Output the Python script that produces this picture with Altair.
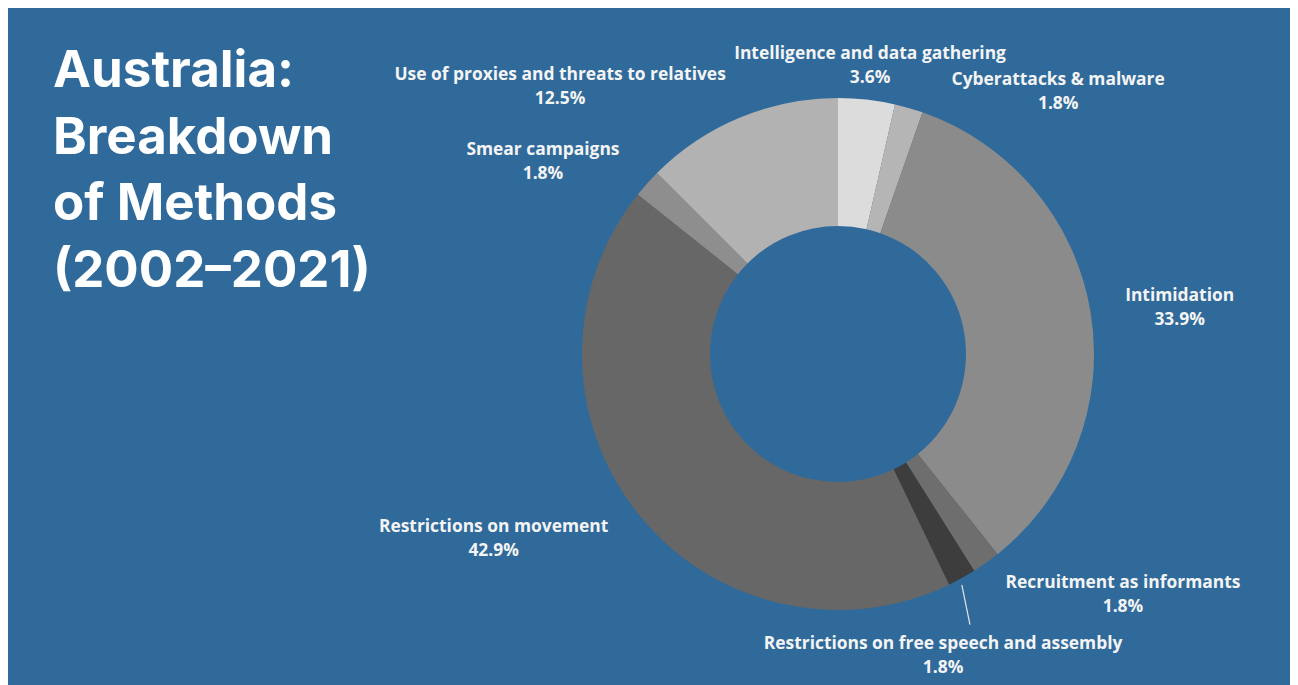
import math
import altair as alt
import pandas as pd

# ---- data (clockwise from 12 o'clock) ----
methods = [
    "Intelligence and data gathering",
    "Cyberattacks & malware",
    "Intimidation",
    "Recruitment as informants",
    "Restrictions on free speech and assembly",
    "Restrictions on movement",
    "Smear campaigns",
    "Use of proxies and threats to relatives",
]
counts = [2, 1, 19, 1, 1, 24, 1, 7]
shares = ["3.6%", "1.8%", "33.9%", "1.8%", "1.8%", "42.9%", "1.8%", "12.5%"]
colors = ["#dcdcdc", "#b5b5b5", "#8b8b8b", "#6e6e6e", "#3d3d3d", "#676767", "#8e8e8e", "#b2b2b2"]

title_lines = ["Australia:", "Breakdown", "of Methods", "(2002\u20132021)"]

# ---- label layout (polar, degrees clockwise from 12 o'clock, px from centre) ----
label_angle_deg = [6.3, 39.8, 82.0, 130.0, 160.7, 242.0, 303.3, 314.1]
label_radius = [292, 344, 345, 372, 318, 390, 353, 387]
leader_angle_deg = [151.8, 154.0]
leader_radius = [262, 301]

W, H = 900, 660
PAD = {"left": 380, "right": 2, "top": 16, "bottom": 1}
BG = "#2f6a9b"

df = pd.DataFrame({
    "method": methods,
    "count": counts,
    "share": shares,
    "idx": list(range(len(methods))),
    "la": label_angle_deg,
    "lr": label_radius,
})

arcs = alt.Chart(df).mark_arc(innerRadius=128, outerRadius=256, stroke=None).encode(
    theta=alt.Theta("count:Q", stack=True),
    color=alt.Color("method:N", scale=alt.Scale(domain=methods, range=colors), legend=None),
    order=alt.Order("idx:Q"),
)

labels = alt.Chart(df).transform_calculate(
    lx=f"{W/2} + datum.lr * sin(datum.la * PI / 180)",
    ly=f"{H/2} - datum.lr * cos(datum.la * PI / 180)",
    txt="datum.method + '\\n' + datum.share",
).mark_text(
    font="Open Sans", fontSize=17.4, fontWeight="bold", color="#f4f4f4",
    align="center", baseline="middle", lineBreak="\n", lineHeight=24, dy=-10,
).encode(
    x=alt.X("lx:Q", scale=None),
    y=alt.Y("ly:Q", scale=None),
    text="txt:N",
)

leader_df = pd.DataFrame({
    "a1": [leader_angle_deg[0]], "r1": [leader_radius[0]],
    "a2": [leader_angle_deg[1]], "r2": [leader_radius[1]],
})
leader = alt.Chart(leader_df).transform_calculate(
    x1=f"{W/2} + datum.r1 * sin(datum.a1 * PI / 180)",
    y1=f"{H/2} - datum.r1 * cos(datum.a1 * PI / 180)",
    x2=f"{W/2} + datum.r2 * sin(datum.a2 * PI / 180)",
    y2=f"{H/2} - datum.r2 * cos(datum.a2 * PI / 180)",
).mark_rule(color="#e6e6e6", strokeWidth=1.2).encode(
    x=alt.X("x1:Q", scale=None),
    y=alt.Y("y1:Q", scale=None),
    x2="x2:Q",
    y2="y2:Q",
)

title = alt.Chart(pd.DataFrame({"k": [0]})).mark_text(
    text=title_lines, font="Inter", fontSize=51, fontWeight="bold", color="white",
    align="left", baseline="alphabetic", lineHeight=66.5,
).encode(
    x=alt.value(45 - PAD["left"]),
    y=alt.value(79 - PAD["top"]),
)

chart = alt.layer(arcs, labels, leader, title).properties(
    width=W, height=H, padding=PAD, autosize="none", background=BG,
).configure_view(stroke=None)

chart.save("out.html", embed_options={"renderer": "svg", "actions": False})
